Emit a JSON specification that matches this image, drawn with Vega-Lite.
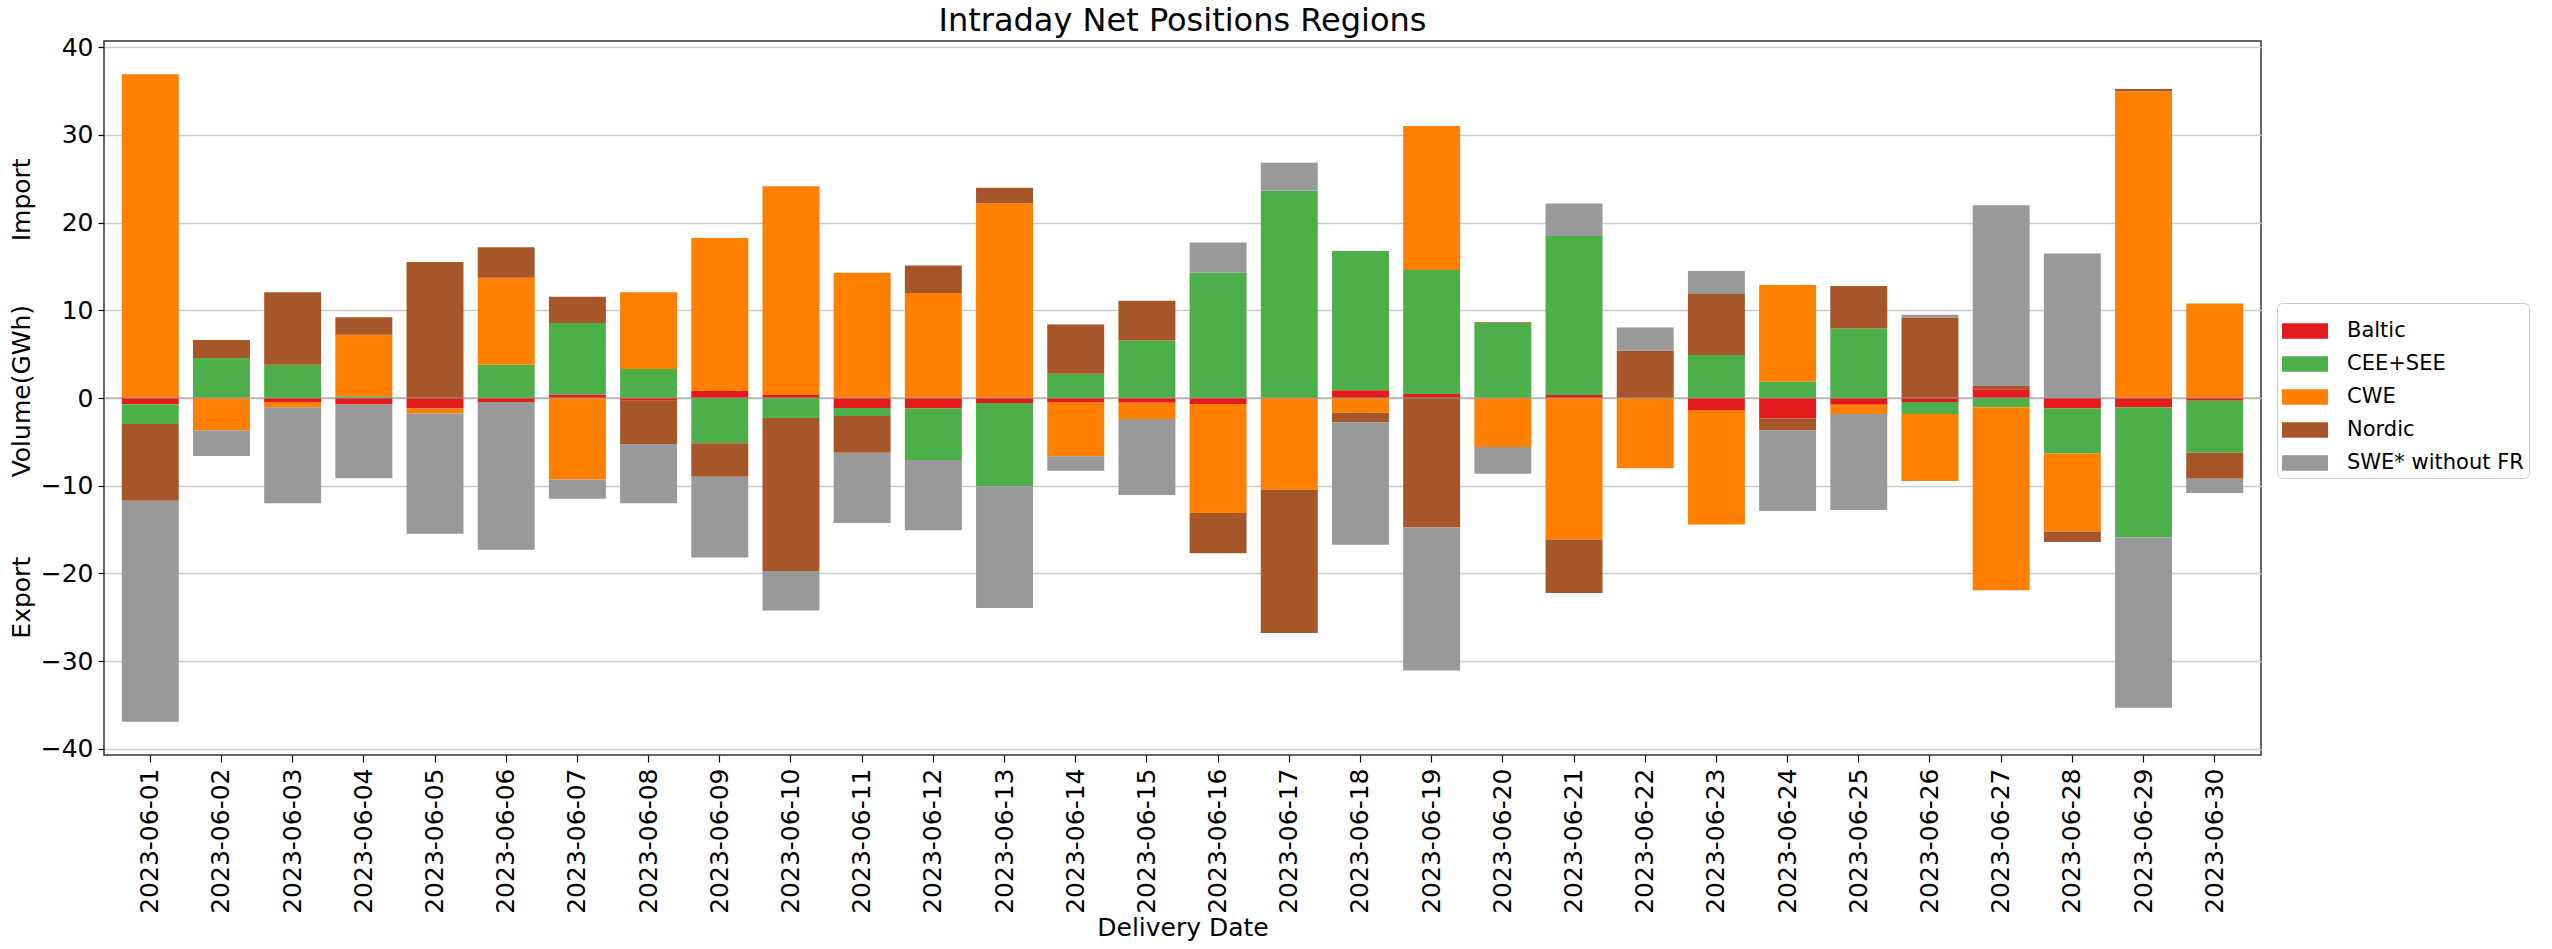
{
  "$schema": "https://vega.github.io/schema/vega-lite/v6.json",
  "width": 2157,
  "height": 714,
  "autosize": {"type": "none"},
  "padding": {"left": 104, "top": 41, "right": 291, "bottom": 194},
  "background": "white",
  "title": {"text": "Intraday Net Positions Regions", "fontSize": 32, "font": "DejaVu Sans", "fontWeight": "normal", "color": "black", "anchor": "middle", "frame": "group", "baseline": "alphabetic", "offset": -28},
  "config": {
    "font": "DejaVu Sans",
    "view": {"stroke": "#333333", "strokeWidth": 1.5}
  },
  "datasets": {
    "net": [
      {"date": "2023-06-01", "region": "Baltic", "value": -0.7},
      {"date": "2023-06-01", "region": "CEE+SEE", "value": -2.25},
      {"date": "2023-06-01", "region": "CWE", "value": 36.9},
      {"date": "2023-06-01", "region": "Nordic", "value": -8.75},
      {"date": "2023-06-01", "region": "SWE* without FR", "value": -25.2},
      {"date": "2023-06-02", "region": "Baltic", "value": 0.05},
      {"date": "2023-06-02", "region": "CEE+SEE", "value": 4.5},
      {"date": "2023-06-02", "region": "CWE", "value": -3.7},
      {"date": "2023-06-02", "region": "Nordic", "value": 2.05},
      {"date": "2023-06-02", "region": "SWE* without FR", "value": -2.9},
      {"date": "2023-06-03", "region": "Baltic", "value": -0.45},
      {"date": "2023-06-03", "region": "CEE+SEE", "value": 3.8},
      {"date": "2023-06-03", "region": "CWE", "value": -0.6},
      {"date": "2023-06-03", "region": "Nordic", "value": 8.25},
      {"date": "2023-06-03", "region": "SWE* without FR", "value": -10.95},
      {"date": "2023-06-04", "region": "Baltic", "value": -0.75},
      {"date": "2023-06-04", "region": "CEE+SEE", "value": 0.2},
      {"date": "2023-06-04", "region": "CWE", "value": 7.0},
      {"date": "2023-06-04", "region": "Nordic", "value": 2.0},
      {"date": "2023-06-04", "region": "SWE* without FR", "value": -8.4},
      {"date": "2023-06-05", "region": "Baltic", "value": -1.17},
      {"date": "2023-06-05", "region": "CEE+SEE", "value": 0},
      {"date": "2023-06-05", "region": "CWE", "value": -0.6},
      {"date": "2023-06-05", "region": "Nordic", "value": 15.5},
      {"date": "2023-06-05", "region": "SWE* without FR", "value": -13.7},
      {"date": "2023-06-06", "region": "Baltic", "value": -0.45},
      {"date": "2023-06-06", "region": "CEE+SEE", "value": 3.8},
      {"date": "2023-06-06", "region": "CWE", "value": 9.9},
      {"date": "2023-06-06", "region": "Nordic", "value": 3.5},
      {"date": "2023-06-06", "region": "SWE* without FR", "value": -16.85},
      {"date": "2023-06-07", "region": "Baltic", "value": 0.4},
      {"date": "2023-06-07", "region": "CEE+SEE", "value": 8.15},
      {"date": "2023-06-07", "region": "CWE", "value": -9.3},
      {"date": "2023-06-07", "region": "Nordic", "value": 3.0},
      {"date": "2023-06-07", "region": "SWE* without FR", "value": -2.2},
      {"date": "2023-06-08", "region": "Baltic", "value": -0.3},
      {"date": "2023-06-08", "region": "CEE+SEE", "value": 3.3},
      {"date": "2023-06-08", "region": "CWE", "value": 8.75},
      {"date": "2023-06-08", "region": "Nordic", "value": -4.95},
      {"date": "2023-06-08", "region": "SWE* without FR", "value": -6.75},
      {"date": "2023-06-09", "region": "Baltic", "value": 0.8},
      {"date": "2023-06-09", "region": "CEE+SEE", "value": -5.15},
      {"date": "2023-06-09", "region": "CWE", "value": 17.45},
      {"date": "2023-06-09", "region": "Nordic", "value": -3.83},
      {"date": "2023-06-09", "region": "SWE* without FR", "value": -9.2},
      {"date": "2023-06-10", "region": "Baltic", "value": 0.35},
      {"date": "2023-06-10", "region": "CEE+SEE", "value": -2.27},
      {"date": "2023-06-10", "region": "CWE", "value": 23.8},
      {"date": "2023-06-10", "region": "Nordic", "value": -17.46},
      {"date": "2023-06-10", "region": "SWE* without FR", "value": -4.5},
      {"date": "2023-06-11", "region": "Baltic", "value": -1.14},
      {"date": "2023-06-11", "region": "CEE+SEE", "value": -0.91},
      {"date": "2023-06-11", "region": "CWE", "value": 14.28},
      {"date": "2023-06-11", "region": "Nordic", "value": -4.2},
      {"date": "2023-06-11", "region": "SWE* without FR", "value": -8.0},
      {"date": "2023-06-12", "region": "Baltic", "value": -1.21},
      {"date": "2023-06-12", "region": "CEE+SEE", "value": -5.87},
      {"date": "2023-06-12", "region": "CWE", "value": 11.97},
      {"date": "2023-06-12", "region": "Nordic", "value": 3.13},
      {"date": "2023-06-12", "region": "SWE* without FR", "value": -8.0},
      {"date": "2023-06-13", "region": "Baltic", "value": -0.57},
      {"date": "2023-06-13", "region": "CEE+SEE", "value": -9.5},
      {"date": "2023-06-13", "region": "CWE", "value": 22.2},
      {"date": "2023-06-13", "region": "Nordic", "value": 1.78},
      {"date": "2023-06-13", "region": "SWE* without FR", "value": -13.86},
      {"date": "2023-06-14", "region": "Baltic", "value": -0.45},
      {"date": "2023-06-14", "region": "CEE+SEE", "value": 2.77},
      {"date": "2023-06-14", "region": "CWE", "value": -6.2},
      {"date": "2023-06-14", "region": "Nordic", "value": 5.6},
      {"date": "2023-06-14", "region": "SWE* without FR", "value": -1.63},
      {"date": "2023-06-15", "region": "Baltic", "value": -0.53},
      {"date": "2023-06-15", "region": "CEE+SEE", "value": 6.55},
      {"date": "2023-06-15", "region": "CWE", "value": -1.86},
      {"date": "2023-06-15", "region": "Nordic", "value": 4.55},
      {"date": "2023-06-15", "region": "SWE* without FR", "value": -8.67},
      {"date": "2023-06-16", "region": "Baltic", "value": -0.68},
      {"date": "2023-06-16", "region": "CEE+SEE", "value": 14.28},
      {"date": "2023-06-16", "region": "CWE", "value": -12.43},
      {"date": "2023-06-16", "region": "Nordic", "value": -4.58},
      {"date": "2023-06-16", "region": "SWE* without FR", "value": 3.45},
      {"date": "2023-06-17", "region": "Baltic", "value": 0},
      {"date": "2023-06-17", "region": "CEE+SEE", "value": 23.67},
      {"date": "2023-06-17", "region": "CWE", "value": -10.45},
      {"date": "2023-06-17", "region": "Nordic", "value": -16.33},
      {"date": "2023-06-17", "region": "SWE* without FR", "value": 3.14},
      {"date": "2023-06-18", "region": "Baltic", "value": 0.87},
      {"date": "2023-06-18", "region": "CEE+SEE", "value": 15.9},
      {"date": "2023-06-18", "region": "CWE", "value": -1.67},
      {"date": "2023-06-18", "region": "Nordic", "value": -1.1},
      {"date": "2023-06-18", "region": "SWE* without FR", "value": -13.97},
      {"date": "2023-06-19", "region": "Baltic", "value": 0.45},
      {"date": "2023-06-19", "region": "CEE+SEE", "value": 14.13},
      {"date": "2023-06-19", "region": "CWE", "value": 16.44},
      {"date": "2023-06-19", "region": "Nordic", "value": -14.77},
      {"date": "2023-06-19", "region": "SWE* without FR", "value": -16.3},
      {"date": "2023-06-20", "region": "Baltic", "value": 0},
      {"date": "2023-06-20", "region": "CEE+SEE", "value": 8.54},
      {"date": "2023-06-20", "region": "CWE", "value": -5.6},
      {"date": "2023-06-20", "region": "Nordic", "value": 0.1},
      {"date": "2023-06-20", "region": "SWE* without FR", "value": -3.04},
      {"date": "2023-06-21", "region": "Baltic", "value": 0.35},
      {"date": "2023-06-21", "region": "CEE+SEE", "value": 18.13},
      {"date": "2023-06-21", "region": "CWE", "value": -16.14},
      {"date": "2023-06-21", "region": "Nordic", "value": -6.1},
      {"date": "2023-06-21", "region": "SWE* without FR", "value": 3.7},
      {"date": "2023-06-22", "region": "Baltic", "value": 0},
      {"date": "2023-06-22", "region": "CEE+SEE", "value": 0},
      {"date": "2023-06-22", "region": "CWE", "value": -8.0},
      {"date": "2023-06-22", "region": "Nordic", "value": 5.38},
      {"date": "2023-06-22", "region": "SWE* without FR", "value": 2.65},
      {"date": "2023-06-23", "region": "Baltic", "value": -1.36},
      {"date": "2023-06-23", "region": "CEE+SEE", "value": 4.89},
      {"date": "2023-06-23", "region": "CWE", "value": -13.07},
      {"date": "2023-06-23", "region": "Nordic", "value": 6.97},
      {"date": "2023-06-23", "region": "SWE* without FR", "value": 2.61},
      {"date": "2023-06-24", "region": "Baltic", "value": -2.35},
      {"date": "2023-06-24", "region": "CEE+SEE", "value": 1.86},
      {"date": "2023-06-24", "region": "CWE", "value": 11.02},
      {"date": "2023-06-24", "region": "Nordic", "value": -1.36},
      {"date": "2023-06-24", "region": "SWE* without FR", "value": -9.17},
      {"date": "2023-06-25", "region": "Baltic", "value": -0.76},
      {"date": "2023-06-25", "region": "CEE+SEE", "value": 7.92},
      {"date": "2023-06-25", "region": "CWE", "value": -1.06},
      {"date": "2023-06-25", "region": "Nordic", "value": 4.85},
      {"date": "2023-06-25", "region": "SWE* without FR", "value": -10.95},
      {"date": "2023-06-26", "region": "Baltic", "value": -0.45},
      {"date": "2023-06-26", "region": "CEE+SEE", "value": -1.37},
      {"date": "2023-06-26", "region": "CWE", "value": -7.65},
      {"date": "2023-06-26", "region": "Nordic", "value": 9.17},
      {"date": "2023-06-26", "region": "SWE* without FR", "value": 0.33},
      {"date": "2023-06-27", "region": "Baltic", "value": 1.0},
      {"date": "2023-06-27", "region": "CEE+SEE", "value": -1.06},
      {"date": "2023-06-27", "region": "CWE", "value": -20.87},
      {"date": "2023-06-27", "region": "Nordic", "value": 0.38},
      {"date": "2023-06-27", "region": "SWE* without FR", "value": 20.6},
      {"date": "2023-06-28", "region": "Baltic", "value": -1.21},
      {"date": "2023-06-28", "region": "CEE+SEE", "value": -5.11},
      {"date": "2023-06-28", "region": "CWE", "value": -8.9},
      {"date": "2023-06-28", "region": "Nordic", "value": -1.21},
      {"date": "2023-06-28", "region": "SWE* without FR", "value": 16.48},
      {"date": "2023-06-29", "region": "Baltic", "value": -1.06},
      {"date": "2023-06-29", "region": "CEE+SEE", "value": -14.85},
      {"date": "2023-06-29", "region": "CWE", "value": 34.96},
      {"date": "2023-06-29", "region": "Nordic", "value": 0.27},
      {"date": "2023-06-29", "region": "SWE* without FR", "value": -19.39},
      {"date": "2023-06-30", "region": "Baltic", "value": -0.3},
      {"date": "2023-06-30", "region": "CEE+SEE", "value": -5.95},
      {"date": "2023-06-30", "region": "CWE", "value": 10.76},
      {"date": "2023-06-30", "region": "Nordic", "value": -2.95},
      {"date": "2023-06-30", "region": "SWE* without FR", "value": -1.63}
    ]
  },
  "layer": [
    {
      "data": {"name": "net"},
      "mark": {"type": "bar"},
      "encoding": {
        "x": {
          "field": "date",
          "type": "nominal",
          "scale": {"paddingInner": 0.2, "paddingOuter": 0.25},
          "axis": {
            "title": "Delivery Date",
            "labelAngle": -90,
            "labelFontSize": 25,
            "labelColor": "black",
            "labelPadding": 6,
            "tickSize": 7,
            "tickColor": "black",
            "tickWidth": 1.2,
            "domain": false,
            "grid": false,
            "titleFontSize": 25,
            "titleFontWeight": "normal",
            "titleColor": "black",
            "titlePadding": 2
          }
        },
        "y": {
          "field": "value",
          "type": "quantitative",
          "stack": "zero",
          "scale": {"domain": [-40.7, 40.7], "nice": false, "zero": false},
          "axis": {
            "title": "Export\u00a0\u00a0\u00a0\u00a0\u00a0\u00a0\u00a0\u00a0\u00a0\u00a0Volume(GWh)\u00a0\u00a0\u00a0\u00a0\u00a0\u00a0\u00a0\u00a0Import",
            "values": [-40, -30, -20, -10, 0, 10, 20, 30, 40],
            "labelExpr": "replace(datum.label, '-', '\u2212')",
            "labelFontSize": 25,
            "labelColor": "black",
            "labelPadding": 5,
            "tickSize": 6,
            "tickColor": "black",
            "tickWidth": 1.2,
            "domain": false,
            "grid": true,
            "gridColor": "#cccccc",
            "gridWidth": 1.5,
            "titleFontSize": 25,
            "titleFontWeight": "normal",
            "titleColor": "black",
            "titleX": -83,
            "titleBaseline": "middle"
          }
        },
        "order": {"field": "region", "sort": "ascending"},
        "color": {
          "field": "region",
          "type": "nominal",
          "scale": {
            "domain": ["Baltic", "CEE+SEE", "CWE", "Nordic", "SWE* without FR"],
            "range": ["#e41a1c", "#4daf4a", "#ff7f00", "#a65628", "#999999"]
          },
          "legend": {
            "title": null,
            "orient": "none",
            "legendX": 2173,
            "legendY": 262,
            "labelFontSize": 21,
            "labelColor": "black",
            "labelLimit": 200,
            "symbolType": "M-1,-0.34H1V0.34H-1Z",
            "symbolSize": 2116,
            "symbolStrokeWidth": 0,
            "symbolOpacity": 1,
            "rowPadding": 0,
            "labelOffset": 19,
            "padding": 5,
            "strokeColor": "#cccccc",
            "fillColor": "white",
            "cornerRadius": 5
          }
        }
      }
    },
    {
      "data": {"values": [{"zero": 0}]},
      "mark": {"type": "rule", "color": "#999999", "strokeWidth": 1.2},
      "encoding": {"y": {"field": "zero", "type": "quantitative"}}
    }
  ]
}
